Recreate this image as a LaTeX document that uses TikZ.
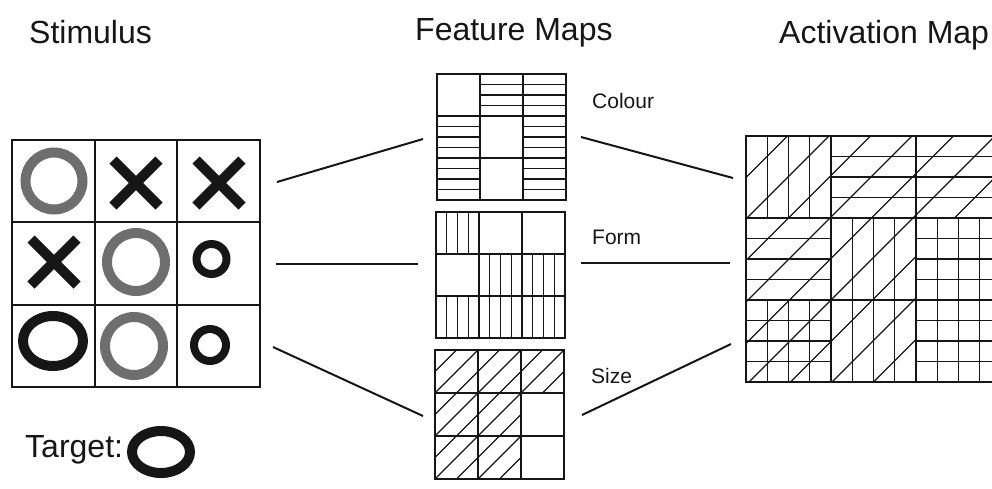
\documentclass[tikz,border=0pt]{standalone}
\usepackage{fontspec}
\setmainfont{Liberation Sans}
\definecolor{ink}{RGB}{22,22,22}
\definecolor{ringgrey}{RGB}{110,110,110}

% horizontal stripes in one cell: width, height, column, row
\newcommand{\hstripes}[4]{%
  \foreach \k in {1,2,3}
    \draw[hatch] ({#3*#1},{#4*#2+\k*#2/4}) -- ++(#1,0);}
% vertical stripes in one cell: width, height, column, row
\newcommand{\vstripes}[4]{%
  \foreach \k in {1,2,3}
    \draw[hatch] ({#3*#1+\k*#1/4},{#4*#2}) -- ++(0,#2);}
% diagonal hatching over a 3x3 block: height, spacing, count
\newcommand{\diagonals}[3]{%
  \foreach \k in {0,...,#3}
    \draw[hatch] ({\k*#2},0) -- ({\k*#2-3*#1},{3*#1});}

\begin{document}
\begin{tikzpicture}[x=1pt,y=-1pt,line join=miter]
\tikzset{
  title/.style={font=\fontsize{32}{38}\selectfont, anchor=base west, inner sep=0pt, text=ink},
  maplabel/.style={font=\fontsize{21}{25}\selectfont, anchor=base west, inner sep=0pt, text=ink},
  link/.style={line width=2pt, draw=ink},
  panel/.style={draw=ink, anchor=north west, inner sep=0pt, outer sep=0pt},
  gridline/.style={line width=2pt, draw=ink},
  mapline/.style={line width=1.6pt, draw=ink},
  hatch/.style={line width=1.3pt, draw=ink},
  greyring/.style={draw=ringgrey, line width=10pt},
  blackring/.style={draw=ink, line width=10pt},
  cross/.style={draw=ink, line width=10pt, line cap=butt},
}
\useasboundingbox (0,0) rectangle (992,488);
\clip (0,0) rectangle (992,488);

% ---------- titles ----------
\node[title] (stimtitle) at (29,43) {Stimulus};
\node[title] (feattitle) at (415,40) {Feature Maps};
\node[title] (acttitle) at (779,43) {Activation Map};

% ---------- stimulus display ----------
\node[panel, gridline, minimum width=248pt, minimum height=247pt] (stim) at (12,140) {};
\foreach \xx in {94.7,177.3} \draw[gridline] (\xx,140) -- (\xx,387);
\foreach \yy in {222.3,304.7} \draw[gridline] (12,\yy) -- (260,\yy);

% grey rings
\draw[greyring] (54,181) circle (28.5);
\draw[greyring] (136,262) circle (29);
\draw[greyring] (134,346) circle (29);
% black rings
\draw[blackring] (53,341) ellipse [x radius=30, y radius=25];
\draw[blackring, line width=8pt] (211.5,259) circle (15);
\draw[blackring, line width=8pt] (210,345) circle (16);
% crosses
\foreach \cx/\cy in {136/183, 219/183, 54/262}{
  \draw[cross] (\cx-23,\cy-23) -- (\cx+23,\cy+23);
  \draw[cross] (\cx-23,\cy+23) -- (\cx+23,\cy-23);
}

% target
\node[title] (targetlbl) at (25,457) {Target:};
\draw[blackring] (161,452) ellipse [x radius=29, y radius=21];

% ---------- feature map: colour ----------
\begin{scope}[shift={(437,74)}]
  \foreach \c/\r in {1/0,2/0,0/1,2/1,0/2,2/2} {\hstripes{43}{42}{\c}{\r}}
  \foreach \xx in {43,86} \draw[mapline] (\xx,0) -- (\xx,126);
  \foreach \yy in {42,84} \draw[mapline] (0,\yy) -- (129,\yy);
\end{scope}
\node[panel, mapline, minimum width=129pt, minimum height=126pt] (colourmap) at (437,74) {};

% ---------- feature map: form ----------
\begin{scope}[shift={(436,212)}]
  \foreach \c/\r in {0/0,1/1,2/1,0/2,1/2,2/2} {\vstripes{43}{42}{\c}{\r}}
  \foreach \xx in {43,86} \draw[mapline] (\xx,0) -- (\xx,126);
  \foreach \yy in {42,84} \draw[mapline] (0,\yy) -- (129,\yy);
\end{scope}
\node[panel, mapline, minimum width=129pt, minimum height=126pt] (formmap) at (436,212) {};

% ---------- feature map: size ----------
\begin{scope}[shift={(435,350)}]
  \begin{scope}
    \clip (0,0) rectangle (129,43) (0,43) rectangle (86,129);
    \diagonals{43}{21.5}{12}
  \end{scope}
  \foreach \xx in {43,86} \draw[mapline] (\xx,0) -- (\xx,129);
  \foreach \yy in {43,86} \draw[mapline] (0,\yy) -- (129,\yy);
\end{scope}
\node[panel, mapline, minimum width=129pt, minimum height=129pt] (sizemap) at (435,350) {};

\node[maplabel] (colourlbl) at (592,108) {Colour};
\node[maplabel] (formlbl) at (592,244) {Form};
\node[maplabel] (sizelbl) at (591,383) {Size};

% ---------- activation map ----------
\begin{scope}[shift={(746,136)}]
  \foreach \c/\r in {1/0,2/0,0/1,2/1,0/2,2/2} {\hstripes{85}{82}{\c}{\r}}
  \foreach \c/\r in {0/0,1/1,2/1,0/2,1/2,2/2} {\vstripes{85}{82}{\c}{\r}}
  \begin{scope}
    \clip (0,0) rectangle (255,82) (0,82) rectangle (170,246);
    \diagonals{82}{41.5}{12}
  \end{scope}
  \foreach \xx in {85,170} \draw[gridline] (\xx,0) -- (\xx,246);
  \foreach \yy in {82,164} \draw[gridline] (0,\yy) -- (255,\yy);
\end{scope}
\node[panel, gridline, minimum width=255pt, minimum height=246pt] (actmap) at (746,136) {};

% ---------- connectors ----------
\coordinate (s1) at (277,182);  \coordinate (c1) at (423,139);
\coordinate (s2) at (276,264);  \coordinate (f1) at (418,264);
\coordinate (s3) at (273,347);  \coordinate (z1) at (423,416);
\coordinate (c2) at (581,137);  \coordinate (a1) at (733,178);
\coordinate (f2) at (581,263);  \coordinate (a2) at (730,263);
\coordinate (z2) at (582,415);  \coordinate (a3) at (731,344);
\draw[link] (s1) -- (c1);
\draw[link] (s2) -- (f1);
\draw[link] (s3) -- (z1);
\draw[link] (c2) -- (a1);
\draw[link] (f2) -- (a2);
\draw[link] (z2) -- (a3);
\end{tikzpicture}
\end{document}
